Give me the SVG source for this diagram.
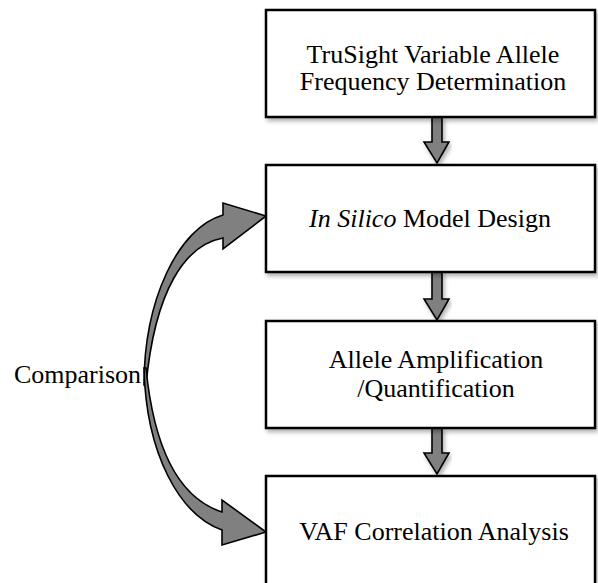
<svg xmlns="http://www.w3.org/2000/svg" width="598" height="583" viewBox="0 0 598 583">
<defs>
<filter id="sh" x="-5%" y="-5%" width="115%" height="120%">
<feDropShadow dx="2" dy="3" stdDeviation="2" flood-color="#000" flood-opacity="0.3"/>
</filter>
<style>
.box{fill:#fff;stroke:#000;stroke-width:2.5;filter:url(#sh);}
.t{font-family:"Liberation Serif","Times New Roman",serif;font-size:26px;fill:#000;text-anchor:middle;}
.arr{fill:#808080;stroke:#000;stroke-width:1.6;stroke-linejoin:miter;}
</style>
</defs>
<rect width="598" height="583" fill="#fff"/>
<g id="connectors">
<path class="arr" filter="url(#sh)" d="M432,117 L442,117 L442,142 L449,142 L437,163 L424,142 L432,142 Z"/>
<path class="arr" filter="url(#sh)" d="M432,272 L442,272 L442,299 L449,299 L437,320 L424,299 L432,299 Z"/>
<path class="arr" filter="url(#sh)" d="M432,428 L442,428 L442,453 L449,453 L437,474 L424,453 L432,453 Z"/>
<path class="arr" d="M144,385 C144,300 178,228 223,215 L223,203 L266,216 L223,249 L223,238 C185,245 155,290 146,385 Z"/>
<path class="arr" d="M144,368 C146,455 180,515 222,530 L222,545 L266,532 L222,500 L222,512 C185,500 155,460 146,368 Z"/>
</g>
<g id="n1">
<rect class="box" x="266" y="10" width="329" height="107"/>
<text class="t" x="433" y="63">TruSight Variable Allele</text>
<text class="t" x="433" y="90">Frequency Determination</text>
</g>
<g id="n2">
<rect class="box" x="266" y="165" width="329" height="107"/>
<text class="t" x="430" y="227"><tspan font-style="italic">In Silico</tspan> Model Design</text>
</g>
<g id="n3">
<rect class="box" x="266" y="321" width="329" height="107"/>
<text class="t" x="436" y="368">Allele Amplification</text>
<text class="t" x="436" y="397">/Quantification</text>
</g>
<g id="n4">
<rect class="box" x="266" y="476" width="329" height="110"/>
<text class="t" x="434" y="540">VAF Correlation Analysis</text>
</g>
<g id="label">
<text class="t" x="14" y="383" style="text-anchor:start">Comparison</text>
</g>
</svg>
